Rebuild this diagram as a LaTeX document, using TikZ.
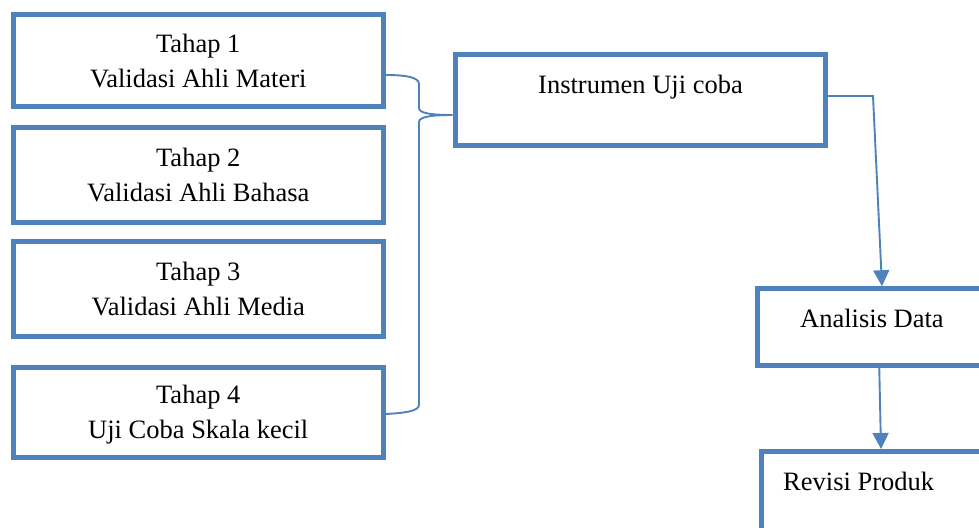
\documentclass[tikz,border=0pt]{standalone}
\usepackage{fontspec}
\setmainfont{Liberation Serif}
\usetikzlibrary{arrows.meta}
\definecolor{wblue}{HTML}{4F81BD}
\begin{document}
\begin{tikzpicture}[x=1pt,y=-1pt,
  every node/.style={font=\fontsize{26.5}{35}\selectfont},
  box/.style={draw=wblue, line width=5pt, inner sep=0pt, align=center, text depth=0pt},
  txt/.style={inner sep=0pt},
  link/.style={draw=wblue, line width=1.9pt},
  arr/.style={draw=wblue, line width=1.9pt, -{Triangle[length=16pt,width=16pt]}}]
\useasboundingbox (0,0) rectangle (979,527);
\clip (0,0) rectangle (979,527);
% left boxes
\node[box, minimum width=369.5pt, minimum height=91.5pt] (b1) at (198.25,60.75) {Tahap 1\\Validasi Ahli Materi};
\node[box, minimum width=369.5pt, minimum height=95.5pt] (b2) at (198.25,174.75) {Tahap 2\\Validasi Ahli Bahasa};
\node[box, minimum width=369.5pt, minimum height=95pt] (b3) at (198.25,288.5) {Tahap 3\\Validasi Ahli Media};
\node[box, minimum width=369.5pt, minimum height=90pt] (b4) at (198.25,412) {Tahap 4\\Uji Coba Skala kecil};
% right boxes
\node[box, minimum width=370.7pt, minimum height=90.7pt] (inst) at (640.35,99.65) {};
\node[txt, anchor=base] (instT) at (640.5,93) {Instrumen Uji coba};
\node[box, minimum width=252.5pt, minimum height=76.3pt] (ana) at (883.75,326.85) {};
\node[txt, anchor=base west] (anaT) at (800,327) {Analisis Data};
\node[box, minimum width=249pt, minimum height=108.5pt] (rev) at (885.5,505.75) {};
\node[txt, anchor=base west] (revT) at (783,490) {Revisi Produk};
% brace
\coordinate (tip) at ([yshift=-15.35pt]inst.west);
\draw[link] ([yshift=-14.25pt]b1.east) .. controls (405,75) and (419,77) .. (419,84)
  -- (419,108) .. controls (419,113) and (430,115) .. (tip)
  .. controls (430,115) and (419,117) .. (419,122)
  -- (419,405) .. controls (419,411) and (405,413) .. ([yshift=-2pt]b4.east);
% arrows
\coordinate (bend) at (873,96);
\draw[arr] ([yshift=3.65pt]inst.east) -- (bend) -- ([xshift=-1.75pt]ana.north);
\draw[arr] ([xshift=-4.5pt]ana.south) -- ([xshift=-4.5pt]rev.north);
\end{tikzpicture}
\end{document}
